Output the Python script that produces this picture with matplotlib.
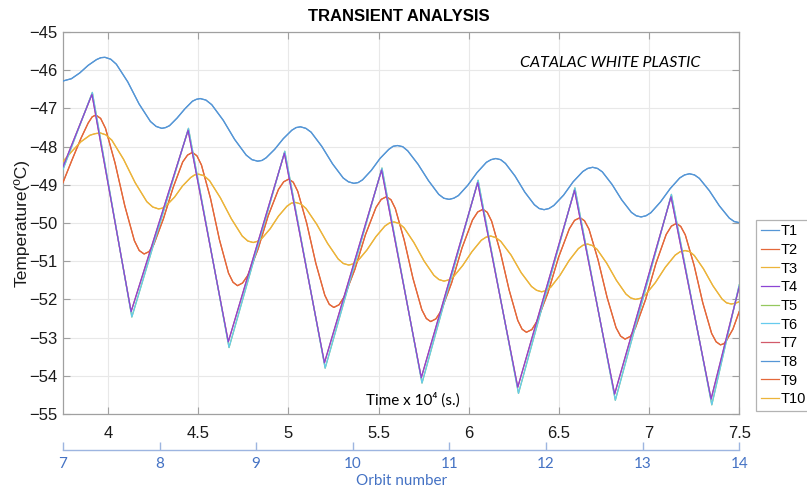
import matplotlib
matplotlib.use("Agg")
import matplotlib.pyplot as plt

plt.rcParams['font.family'] = ['Liberation Sans', 'DejaVu Sans']

# time in units of 1e4 s, temperatures in degC
time_t1 = [3.75, 3.797, 3.843, 3.890, 3.936, 3.960, 3.983,
           4.015, 4.046, 4.109, 4.172, 4.235, 4.267, 4.298,
           4.319, 4.341, 4.383, 4.426, 4.468, 4.490, 4.511,
           4.543, 4.575, 4.639, 4.702, 4.766, 4.798, 4.830,
           4.854, 4.877, 4.924, 4.972, 5.019, 5.043, 5.067,
           5.097, 5.126, 5.185, 5.245, 5.304, 5.333, 5.363,
           5.387, 5.411, 5.460, 5.508, 5.557, 5.581, 5.605,
           5.634, 5.662, 5.719, 5.777, 5.834, 5.862, 5.891,
           5.917, 5.943, 5.995, 6.046, 6.098, 6.124, 6.150,
           6.177, 6.204, 6.257, 6.311, 6.364, 6.391, 6.418,
           6.445, 6.472, 6.526, 6.579, 6.633, 6.660, 6.687,
           6.714, 6.741, 6.795, 6.848, 6.902, 6.929, 6.956,
           6.983, 7.010, 7.063, 7.117, 7.170, 7.197, 7.224,
           7.252, 7.279, 7.334, 7.390, 7.445, 7.472, 7.5]
temp_t1 = [-46.28, -46.22, -46.07, -45.87, -45.72, -45.67, -45.66,
           -45.71, -45.84, -46.30, -46.88, -47.34, -47.47, -47.52,
           -47.50, -47.45, -47.25, -47.01, -46.81, -46.76, -46.74,
           -46.78, -46.90, -47.31, -47.81, -48.22, -48.34, -48.38,
           -48.36, -48.29, -48.07, -47.79, -47.57, -47.50, -47.48,
           -47.52, -47.62, -47.99, -48.45, -48.82, -48.92, -48.96,
           -48.94, -48.87, -48.62, -48.31, -48.07, -47.99, -47.97,
           -48.00, -48.11, -48.46, -48.89, -49.25, -49.35, -49.38,
           -49.35, -49.28, -49.01, -48.68, -48.41, -48.34, -48.31,
           -48.34, -48.44, -48.77, -49.19, -49.52, -49.62, -49.65,
           -49.62, -49.54, -49.27, -48.92, -48.65, -48.57, -48.54,
           -48.57, -48.66, -48.99, -49.39, -49.72, -49.81, -49.84,
           -49.81, -49.73, -49.45, -49.10, -48.82, -48.74, -48.71,
           -48.74, -48.83, -49.15, -49.55, -49.87, -49.96, -49.99]

time_t2 = [3.75, 3.80, 3.85, 3.89, 3.912, 3.932,
           3.959, 3.986, 4.039, 4.093, 4.146, 4.173, 4.200,
           4.227, 4.254, 4.307, 4.361, 4.414, 4.441, 4.468,
           4.493, 4.518, 4.568, 4.618, 4.668, 4.693, 4.718,
           4.746, 4.775, 4.832, 4.888, 4.945, 4.974, 5.002,
           5.027, 5.052, 5.102, 5.152, 5.202, 5.227, 5.252,
           5.281, 5.310, 5.369, 5.427, 5.486, 5.515, 5.544,
           5.569, 5.593, 5.642, 5.691, 5.740, 5.765, 5.789,
           5.818, 5.847, 5.905, 5.963, 6.021, 6.050, 6.079,
           6.103, 6.127, 6.175, 6.224, 6.272, 6.296, 6.320,
           6.350, 6.379, 6.439, 6.498, 6.558, 6.587, 6.617,
           6.642, 6.667, 6.717, 6.767, 6.817, 6.842, 6.867,
           6.896, 6.924, 6.981, 7.038, 7.095, 7.124, 7.152,
           7.176, 7.201, 7.250, 7.298, 7.347, 7.372, 7.396,
           7.415, 7.43, 7.465, 7.5]
temp_t2 = [-48.94, -48.35, -47.78, -47.38, -47.22, -47.17,
           -47.26, -47.52, -48.43, -49.55, -50.46, -50.72, -50.81,
           -50.75, -50.56, -49.89, -49.07, -48.40, -48.22, -48.15,
           -48.24, -48.48, -49.35, -50.44, -51.31, -51.55, -51.64,
           -51.57, -51.37, -50.68, -49.81, -49.12, -48.92, -48.85,
           -48.93, -49.17, -50.01, -51.05, -51.89, -52.13, -52.21,
           -52.14, -51.93, -51.21, -50.31, -49.59, -49.38, -49.31,
           -49.39, -49.62, -50.44, -51.45, -52.27, -52.50, -52.58,
           -52.51, -52.30, -51.57, -50.65, -49.92, -49.71, -49.64,
           -49.72, -49.95, -50.75, -51.75, -52.55, -52.78, -52.86,
           -52.79, -52.57, -51.83, -50.90, -50.15, -49.93, -49.86,
           -49.94, -50.16, -50.96, -51.94, -52.74, -52.96, -53.04,
           -52.97, -52.75, -52.00, -51.06, -50.30, -50.08, -50.01,
           -50.09, -50.31, -51.11, -52.09, -52.89, -53.11, -53.19,
           -53.16, -53.07, -52.78, -52.32]

time_t3 = [3.75, 3.80, 3.85, 3.90, 3.928, 3.956,
           3.988, 4.021, 4.086, 4.150, 4.215, 4.248, 4.280,
           4.302, 4.324, 4.369, 4.413, 4.458, 4.480, 4.502,
           4.532, 4.563, 4.623, 4.684, 4.744, 4.775, 4.805,
           4.828, 4.852, 4.899, 4.945, 4.992, 5.016, 5.039,
           5.069, 5.098, 5.157, 5.217, 5.276, 5.305, 5.335,
           5.360, 5.385, 5.435, 5.485, 5.535, 5.560, 5.585,
           5.613, 5.641, 5.696, 5.752, 5.807, 5.835, 5.863,
           5.889, 5.915, 5.967, 6.018, 6.070, 6.096, 6.122,
           6.150, 6.178, 6.235, 6.291, 6.348, 6.376, 6.404,
           6.430, 6.455, 6.506, 6.557, 6.608, 6.634, 6.659,
           6.686, 6.712, 6.765, 6.819, 6.872, 6.898, 6.925,
           6.953, 6.980, 7.035, 7.090, 7.145, 7.173, 7.200,
           7.226, 7.251, 7.302, 7.354, 7.405, 7.430, 7.456,
           7.48, 7.5]
temp_t3 = [-48.39, -48.12, -47.87, -47.70, -47.66, -47.64,
           -47.69, -47.83, -48.33, -48.94, -49.44, -49.58, -49.63,
           -49.61, -49.54, -49.32, -49.03, -48.81, -48.74, -48.72,
           -48.76, -48.89, -49.34, -49.89, -50.34, -50.47, -50.51,
           -50.48, -50.41, -50.15, -49.82, -49.56, -49.48, -49.46,
           -49.50, -49.62, -50.03, -50.53, -50.94, -51.06, -51.10,
           -51.07, -50.99, -50.71, -50.36, -50.08, -50.00, -49.97,
           -50.01, -50.12, -50.51, -50.99, -51.37, -51.48, -51.52,
           -51.49, -51.41, -51.11, -50.75, -50.45, -50.37, -50.34,
           -50.38, -50.48, -50.84, -51.30, -51.66, -51.76, -51.80,
           -51.77, -51.68, -51.37, -50.98, -50.67, -50.58, -50.55,
           -50.59, -50.69, -51.05, -51.50, -51.86, -51.96, -52.00,
           -51.97, -51.88, -51.56, -51.16, -50.84, -50.75, -50.72,
           -50.75, -50.85, -51.20, -51.64, -51.99, -52.09, -52.12,
           -52.10, -52.06]

# sensors with the saw-tooth response (T4, T7 and T5, T6)
time_saw = [3.75, 3.911, 4.128, 4.444, 4.667, 4.978, 5.200, 5.517,
            5.737, 6.050, 6.272, 6.587, 6.809, 7.122, 7.344, 7.5]
temp_saw = [-48.53, -46.63, -52.32, -47.57, -53.11, -48.17, -53.66, -48.61,
            -54.05, -48.94, -54.30, -49.14, -54.48, -49.31, -54.61, -51.67]
time_saw_b = [3.75, 3.913, 4.132, 4.446, 4.671, 4.980, 5.204, 5.519,
              5.741, 6.052, 6.276, 6.589, 6.813, 7.124, 7.348, 7.5]
temp_saw_b = [-48.60, -46.58, -52.46, -47.52, -53.26, -48.12, -53.80, -48.56,
              -54.19, -48.88, -54.46, -49.08, -54.64, -49.25, -54.76, -51.62]

labels = ['T1', 'T2', 'T3', 'T4', 'T5', 'T6', 'T7', 'T8', 'T9', 'T10']
series_time = [time_t1, time_t2, time_t3, time_saw, time_saw_b,
               time_saw_b, time_saw, time_t1, time_t2, time_t3]
series_temp = [temp_t1, temp_t2, temp_t3, temp_saw, temp_saw_b,
               temp_saw_b, temp_saw, temp_t1, temp_t2, temp_t3]
colors = ['#5596d6', '#e4683a', '#ecb43a', '#8c45d4', '#95c85e',
          '#66cbee', '#d25a6a', '#5596d6', '#e4683a', '#ecb43a']
zorders = [3, 3, 3, 5, 3, 4, 2, 3, 3, 3]

x_ticks = [4, 4.5, 5, 5.5, 6, 6.5, 7, 7.5]
x_ticklabels = ['4', '4.5', '5', '5.5', '6', '6.5', '7', '7.5']
y_ticks = [-55, -54, -53, -52, -51, -50, -49, -48, -47, -46, -45]
orbit_ticks = [7, 8, 9, 10, 11, 12, 13, 14]
orbit_period = 3.75 / 7  # x 1e4 s per orbit

fig = plt.figure(figsize=(8.07, 4.94), dpi=100)
ax = fig.add_axes([0.078, 0.162, 0.838, 0.773])

lines = []
for tt, vv, lab, col, z in zip(series_time, series_temp, labels, colors, zorders):
    ln, = ax.plot(tt, vv, color=col, linewidth=0.9, label=lab, zorder=z)
    lines.append(ln)

ax.set_xlim(3.75, 7.5)
ax.set_ylim(-55, -45)
ax.set_xticks(x_ticks)
ax.set_xticklabels(x_ticklabels)
ax.set_yticks(y_ticks)
ax.grid(True, color='#e8e8e8', linewidth=0.8)
ax.set_axisbelow(True)
for sp in ax.spines.values():
    sp.set_color('#a0a0a0')
    sp.set_linewidth(0.9)
ax.tick_params(axis='both', direction='in', top=True, right=True, length=5,
               color='#a0a0a0', labelsize=12, labelcolor='#1a1a1a')
ax.tick_params(axis='x', pad=9)
ax.tick_params(axis='y', pad=4)
ax.set_ylabel('Temperature(ºC)', fontsize=12.5, color='#1a1a1a')
ax.yaxis.set_label_coords(-0.049, 0.5)

# orbit number axis below
sec = ax.secondary_xaxis(-0.094, functions=(lambda t: 7 + (t - 3.75) / orbit_period,
                                            lambda n: 3.75 + (n - 7) * orbit_period))
sec.set_xticks(orbit_ticks)
sec.spines['bottom'].set_color('#9db5e0')
sec.spines['bottom'].set_linewidth(1.0)
sec.tick_params(direction='in', length=6, width=1.0, color='#9db5e0',
                labelcolor='#4472c4', labelsize=11, pad=5)
for lab in sec.get_xticklabels():
    lab.set_fontfamily(['Lato', 'DejaVu Sans'])
sec.set_xlabel('Orbit number', color='#4472c4', fontsize=11,
               fontfamily=['Lato', 'DejaVu Sans'], labelpad=2)

leg = ax.legend(lines, labels, loc='upper left', bbox_to_anchor=(0.937, 0.555),
                bbox_transform=fig.transFigure, fancybox=False, edgecolor='#a0a0a0',
                fontsize=10.5, handlelength=1.25, handletextpad=0.1, labelspacing=0.32,
                borderpad=0.3, borderaxespad=0)
leg.get_frame().set_linewidth(0.9)

fig.text(0.494, 0.966, 'TRANSIENT ANALYSIS', ha='center', va='center',
         fontsize=12, fontweight='bold')
fig.text(0.756, 0.872, 'CATALAC WHITE PLASTIC', ha='center', va='center',
         fontsize=11.5, style='italic', family=['Lato', 'DejaVu Sans'])
fig.text(0.512, 0.19, 'Time x 10⁴ (s.)', ha='center', va='center',
         fontsize=11, family=['Lato', 'DejaVu Sans'])

fig.savefig('out.png', dpi=100)
